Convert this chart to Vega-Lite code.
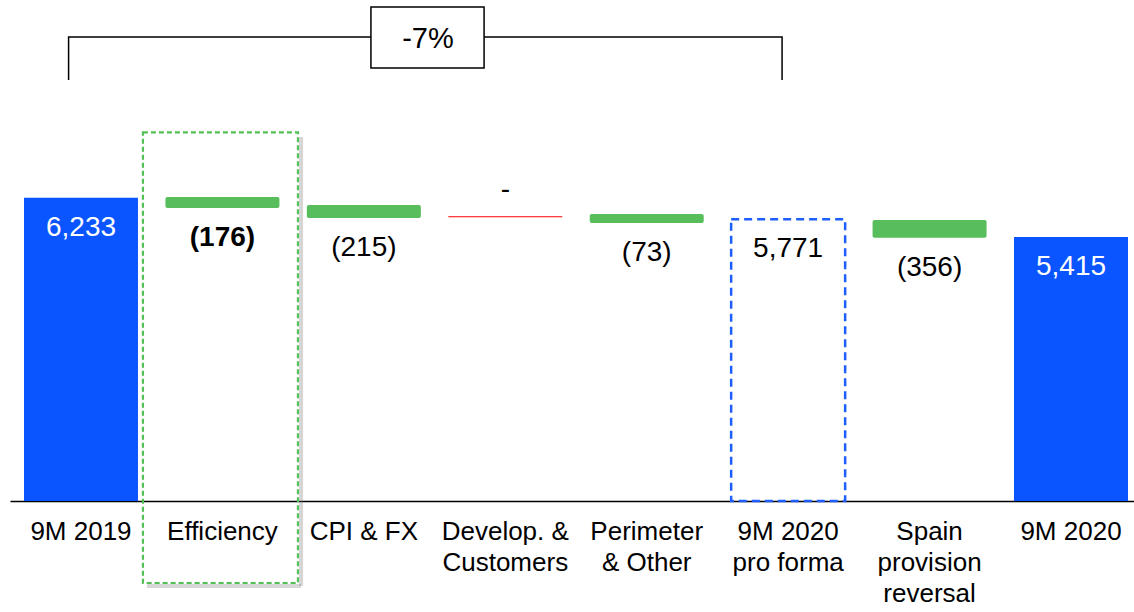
{
  "$schema": "https://vega.github.io/schema/vega-lite/v6.json",
  "width": 1124,
  "height": 501,
  "autosize": {"type": "none"},
  "padding": {"left": 10, "top": 0, "right": 0, "bottom": 111},
  "background": "white",
  "config": {"view": {"stroke": null}, "font": "Liberation Sans"},
  "datasets": {
    "bars": [
      {"cat": "9M 2019", "start": 0, "end": 6233, "label": "6,233", "kind": "total"},
      {"cat": "Efficiency", "start": 6247, "end": 6021, "label": "(176)", "kind": "delta"},
      {"cat": "CPI & FX", "start": 6083, "end": 5816, "label": "(215)", "kind": "delta"},
      {"cat": "Develop. &|Customers", "start": 5842, "end": 5842, "label": "-", "kind": "zero"},
      {"cat": "Perimeter|& Other", "start": 5898, "end": 5713, "label": "(73)", "kind": "delta"},
      {"cat": "9M 2020|pro forma", "start": 0, "end": 5789, "label": "5,771", "kind": "proforma"},
      {"cat": "Spain|provision|reversal", "start": 5775, "end": 5411, "label": "(356)", "kind": "delta"},
      {"cat": "9M 2020", "start": 0, "end": 5425, "label": "5,415", "kind": "total"}
    ],
    "annot": [
      {"type": "bracket", "px": -0.0877, "py": 8652, "o": 1},
      {"type": "bracket", "px": -0.0877, "py": 9535, "o": 2},
      {"type": "bracket", "px": 4.957, "py": 9535, "o": 3},
      {"type": "bracket", "px": 4.957, "py": 8652, "o": 4},
      {"type": "box", "px": 2.05, "px2": 2.85, "py": 10152, "py2": 8898},
      {"type": "pct", "px": 2.453, "py": 9494, "label": "-7%"},
      {"type": "focus", "px": 0.438, "px2": 1.534, "py": 7577, "py2": -1685},
      {"type": "shadowR", "px": 1.556, "py": 7480, "py2": -1747},
      {"type": "shadowB", "px": 0.467, "px2": 1.556, "py": -1747}
    ]
  },
  "layer": [
    {
      "data": {"name": "bars"},
      "encoding": {
        "x": {
          "field": "cat",
          "type": "nominal",
          "sort": null,
          "scale": {
            "domain": ["9M 2019", "Efficiency", "CPI & FX", "Develop. &|Customers", "Perimeter|& Other", "9M 2020|pro forma", "Spain|provision|reversal", "9M 2020"],
            "paddingInner": 0.194,
            "paddingOuter": 0.0707,
            "align": 0.7
          },
          "axis": {
            "title": null,
            "labelExpr": "split(datum.value, '|')",
            "labelAngle": 0,
            "labelFontSize": 26,
            "labelLineHeight": 31,
            "labelColor": "black",
            "labelFont": "Liberation Sans",
            "labelPadding": 17,
            "labelLimit": 0,
            "ticks": false,
            "tickSize": 0,
            "domainColor": "black",
            "domainWidth": 1.5,
            "grid": false
          }
        }
      },
      "layer": [
        {
          "transform": [{"filter": "datum.kind == 'total'"}],
          "mark": {"type": "bar", "fill": "#0A55FF"},
          "encoding": {
            "y": {"field": "start", "type": "quantitative", "scale": {"domain": [0, 10296], "nice": false, "zero": false}, "axis": null},
            "y2": {"field": "end"}
          }
        },
        {
          "transform": [{"filter": "datum.kind == 'delta'"}],
          "mark": {"type": "bar", "fill": "#57BE5B", "cornerRadius": 2},
          "encoding": {
            "y": {"field": "start", "type": "quantitative", "scale": {"domain": [0, 10296], "nice": false, "zero": false}, "axis": null},
            "y2": {"field": "end"}
          }
        },
        {
          "transform": [{"filter": "datum.kind == 'zero'"}],
          "mark": {"type": "bar", "fillOpacity": 0, "stroke": "#FF0000", "strokeWidth": 1.2},
          "encoding": {
            "y": {"field": "start", "type": "quantitative", "scale": {"domain": [0, 10296], "nice": false, "zero": false}, "axis": null},
            "y2": {"field": "end"}
          }
        },
        {
          "transform": [{"filter": "datum.kind == 'proforma'"}],
          "mark": {"type": "bar", "fillOpacity": 0, "stroke": "#1E5EFF", "strokeWidth": 2.5, "strokeDash": [8, 5]},
          "encoding": {
            "y": {"field": "start", "type": "quantitative", "scale": {"domain": [0, 10296], "nice": false, "zero": false}, "axis": null},
            "y2": {"field": "end"}
          }
        },
        {
          "transform": [{"filter": "datum.kind != 'zero' && datum.cat != 'Efficiency'"}],
          "mark": {"type": "text", "fontSize": 28, "baseline": "middle", "dy": 30, "font": "Liberation Sans"},
          "encoding": {
            "y": {"field": "end", "type": "quantitative", "scale": {"domain": [0, 10296], "nice": false, "zero": false}, "axis": null},
            "text": {"field": "label"},
            "color": {"condition": {"test": "datum.kind == 'total'", "value": "white"}, "value": "black"}
          }
        },
        {
          "transform": [{"filter": "datum.cat == 'Efficiency'"}],
          "mark": {"type": "text", "fontSize": 28, "fontWeight": "bold", "baseline": "middle", "dy": 30, "font": "Liberation Sans", "color": "black"},
          "encoding": {
            "y": {"field": "end", "type": "quantitative", "scale": {"domain": [0, 10296], "nice": false, "zero": false}, "axis": null},
            "text": {"field": "label"}
          }
        },
        {
          "transform": [{"filter": "datum.kind == 'zero'"}],
          "mark": {"type": "text", "fontSize": 28, "baseline": "middle", "dy": -27, "font": "Liberation Sans", "color": "black"},
          "encoding": {
            "y": {"field": "end", "type": "quantitative", "scale": {"domain": [0, 10296], "nice": false, "zero": false}, "axis": null},
            "text": {"field": "label"}
          }
        }
      ]
    },
    {
      "data": {"name": "annot"},
      "layer": [
        {
          "transform": [{"filter": "datum.type == 'shadowR'"}],
          "mark": {"type": "rule", "color": "#777777", "strokeWidth": 4, "opacity": 0.3},
          "encoding": {
            "x": {"field": "px", "type": "quantitative", "scale": {"domain": [-0.50202, 7.44538], "nice": false, "zero": false}, "axis": null},
            "y": {"field": "py", "type": "quantitative", "scale": {"domain": [0, 10296], "nice": false, "zero": false}, "axis": null},
            "y2": {"field": "py2"}
          }
        },
        {
          "transform": [{"filter": "datum.type == 'shadowB'"}],
          "mark": {"type": "rule", "color": "#777777", "strokeWidth": 4, "opacity": 0.3},
          "encoding": {
            "x": {"field": "px", "type": "quantitative", "scale": {"domain": [-0.50202, 7.44538], "nice": false, "zero": false}, "axis": null},
            "x2": {"field": "px2"},
            "y": {"field": "py", "type": "quantitative", "scale": {"domain": [0, 10296], "nice": false, "zero": false}, "axis": null}
          }
        },
        {
          "transform": [{"filter": "datum.type == 'focus'"}],
          "mark": {"type": "rect", "fillOpacity": 0, "stroke": "#52C155", "strokeWidth": 2.2, "strokeDash": [5, 3]},
          "encoding": {
            "x": {"field": "px", "type": "quantitative", "scale": {"domain": [-0.50202, 7.44538], "nice": false, "zero": false}, "axis": null},
            "x2": {"field": "px2"},
            "y": {"field": "py", "type": "quantitative", "scale": {"domain": [0, 10296], "nice": false, "zero": false}, "axis": null},
            "y2": {"field": "py2"}
          }
        },
        {
          "transform": [{"filter": "datum.type == 'bracket'"}],
          "mark": {"type": "line", "color": "black", "strokeWidth": 1.5},
          "encoding": {
            "x": {"field": "px", "type": "quantitative", "scale": {"domain": [-0.50202, 7.44538], "nice": false, "zero": false}, "axis": null},
            "y": {"field": "py", "type": "quantitative", "scale": {"domain": [0, 10296], "nice": false, "zero": false}, "axis": null},
            "order": {"field": "o", "type": "quantitative"}
          }
        },
        {
          "transform": [{"filter": "datum.type == 'box'"}],
          "mark": {"type": "rect", "fill": "white", "stroke": "black", "strokeWidth": 1.5},
          "encoding": {
            "x": {"field": "px", "type": "quantitative", "scale": {"domain": [-0.50202, 7.44538], "nice": false, "zero": false}, "axis": null},
            "x2": {"field": "px2"},
            "y": {"field": "py", "type": "quantitative", "scale": {"domain": [0, 10296], "nice": false, "zero": false}, "axis": null},
            "y2": {"field": "py2"}
          }
        },
        {
          "transform": [{"filter": "datum.type == 'pct'"}],
          "mark": {"type": "text", "fontSize": 29, "baseline": "middle", "align": "center", "color": "black", "font": "Liberation Sans"},
          "encoding": {
            "x": {"field": "px", "type": "quantitative", "scale": {"domain": [-0.50202, 7.44538], "nice": false, "zero": false}, "axis": null},
            "y": {"field": "py", "type": "quantitative", "scale": {"domain": [0, 10296], "nice": false, "zero": false}, "axis": null},
            "text": {"field": "label"}
          }
        }
      ]
    }
  ],
  "resolve": {"scale": {"x": "independent"}}
}
